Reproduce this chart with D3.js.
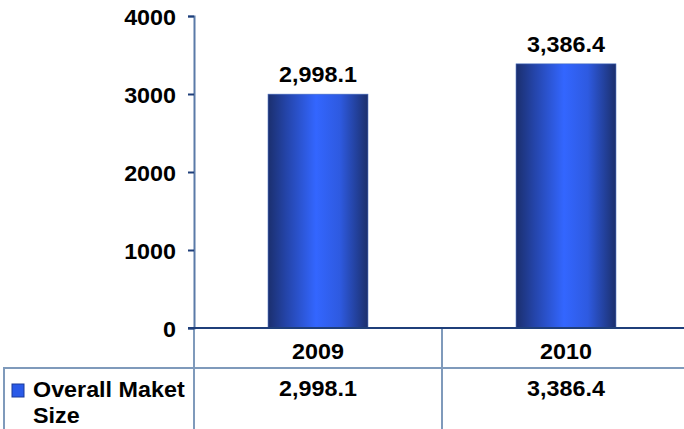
<!DOCTYPE html>
<html>
<head>
<meta charset="utf-8">
<script src="https://cdn.jsdelivr.net/npm/d3@7"></script>
<style>
  body { margin: 0; background: #ffffff; }
  text { font-family: "Liberation Sans", Arial, sans-serif; font-weight: bold; font-size: 22px; fill: #000; }
</style>
</head>
<body>
<div id="chart"></div>
<script>
var years = ["2009", "2010"];
var marketSize = [2998.1, 3386.4];
var valueLabels = ["2,998.1", "3,386.4"];
var yTicks = [0, 1000, 2000, 3000, 4000];
var seriesName = ["Overall Maket", "Size"];

var dim = { width: 684, height: 429 };
var svg = d3.select("#chart").append("svg")
    .attr("width", dim.width)
    .attr("height", dim.height);

var defs = svg.append("defs");
var grad = defs.append("linearGradient")
    .attr("id", "barGrad")
    .attr("x1", "0%").attr("x2", "100%")
    .attr("y1", "0%").attr("y2", "0%");
grad.append("stop").attr("offset", "0%").attr("stop-color", "#1b2f6e");
grad.append("stop").attr("offset", "18%").attr("stop-color", "#2444a8");
grad.append("stop").attr("offset", "48%").attr("stop-color", "#3366ff");
grad.append("stop").attr("offset", "72%").attr("stop-color", "#2e5ae0");
grad.append("stop").attr("offset", "100%").attr("stop-color", "#1b2f6c");

var plotLeft = 194, plotRight = 690;
var x = d3.scaleBand().domain(years).range([plotLeft, plotRight]);
var y = d3.scaleLinear().domain([0, 4000]).range([328, 16]);
var barW = x.bandwidth() * 0.403;

// stretch bold text a bit wider like the original rendering
function stretch(sel) {
  sel.each(function() {
    var w = this.getComputedTextLength();
    d3.select(this).attr("textLength", w * 1.06).attr("lengthAdjust", "spacingAndGlyphs");
  });
}

// table grid
var tableColor = "#7f9abb";
svg.append("line").attr("x1", 4).attr("x2", dim.width).attr("y1", 368).attr("y2", 368)
    .attr("stroke", tableColor).attr("stroke-width", 2);
svg.append("line").attr("x1", 4).attr("x2", 4).attr("y1", 367).attr("y2", dim.height)
    .attr("stroke", tableColor).attr("stroke-width", 2);
svg.selectAll(".vsep").data(years).enter().append("line")
    .attr("class", "vsep")
    .attr("x1", function(d) { return x(d) + x.bandwidth(); })
    .attr("x2", function(d) { return x(d) + x.bandwidth(); })
    .attr("y1", 328).attr("y2", dim.height)
    .attr("stroke", tableColor).attr("stroke-width", 2);
svg.append("line").attr("x1", plotLeft).attr("x2", plotLeft).attr("y1", 328).attr("y2", dim.height)
    .attr("stroke", tableColor).attr("stroke-width", 2);

// bars
svg.selectAll(".bar").data(marketSize).enter().append("rect")
    .attr("class", "bar")
    .attr("x", function(d, i) { return x(years[i]) + (x.bandwidth() - barW) / 2; })
    .attr("y", function(d) { return y(d); })
    .attr("width", barW)
    .attr("height", function(d) { return y(0) - y(d); })
    .attr("fill", "url(#barGrad)")
    .attr("stroke", "#4a6fc0")
    .attr("stroke-width", 0.6);

// y axis
var yAxis = d3.axisLeft(y).tickValues(yTicks).tickFormat(d3.format("d")).tickSize(6).tickPadding(12);
var gy = svg.append("g").attr("transform", "translate(" + plotLeft + ",0)").call(yAxis);
gy.select(".domain").attr("stroke", "#5a7aa8").attr("stroke-width", 2);
gy.selectAll(".tick line").attr("stroke", "#1f3f7a").attr("stroke-width", 2);
gy.selectAll(".tick text")
    .attr("font-size", 22).attr("font-family", null)
    .attr("dy", "0.38em")
    .call(stretch);

// x axis line
svg.append("line").attr("x1", plotLeft - 6).attr("x2", dim.width).attr("y1", y(0)).attr("y2", y(0))
    .attr("stroke", "#1f3f7a").attr("stroke-width", 2);

// value labels above bars
svg.selectAll(".vlab").data(marketSize).enter().append("text")
    .attr("class", "vlab")
    .attr("x", function(d, i) { return x(years[i]) + x.bandwidth() / 2; })
    .attr("y", function(d) { return y(d) - 12; })
    .attr("text-anchor", "middle")
    .text(function(d, i) { return valueLabels[i]; })
    .call(stretch);

// year labels
svg.selectAll(".ylab").data(years).enter().append("text")
    .attr("class", "ylab")
    .attr("x", function(d) { return x(d) + x.bandwidth() / 2; })
    .attr("y", 359)
    .attr("text-anchor", "middle")
    .text(function(d) { return d; })
    .call(stretch);

// table values
svg.selectAll(".tval").data(valueLabels).enter().append("text")
    .attr("class", "tval")
    .attr("x", function(d, i) { return x(years[i]) + x.bandwidth() / 2; })
    .attr("y", 396)
    .attr("text-anchor", "middle")
    .text(function(d) { return d; })
    .call(stretch);

// legend key
svg.append("rect").attr("x", 12).attr("y", 384).attr("width", 12).attr("height", 13)
    .attr("fill", "#2a5ae8").attr("stroke", "#1a3a9a").attr("stroke-width", 1);
svg.selectAll(".legtxt").data(seriesName).enter().append("text")
    .attr("class", "legtxt")
    .attr("x", 33)
    .attr("y", function(d, i) { return 397 + i * 26; })
    .text(function(d) { return d; })
    .call(stretch);
</script>
</body>
</html>
